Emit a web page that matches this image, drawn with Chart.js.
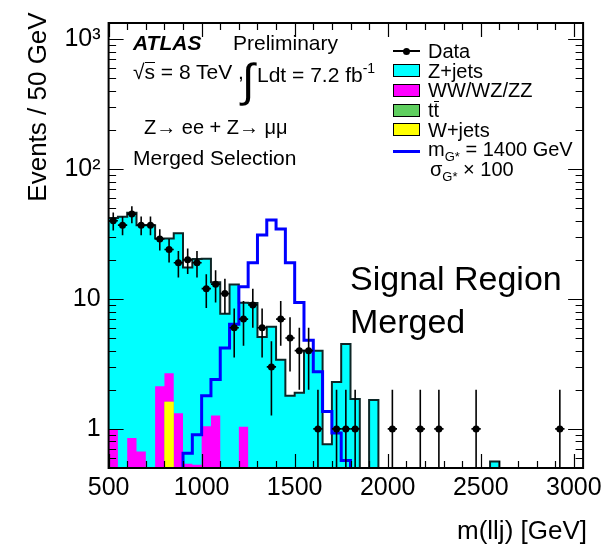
<!DOCTYPE html>
<html>
<head>
<meta charset="utf-8">
<script src="https://cdn.jsdelivr.net/npm/chart.js@4.4.0/dist/chart.umd.min.js"></script>
<style>
  html, body { margin: 0; padding: 0; background: #fff; }
  #wrap { position: relative; width: 607px; height: 545px; font-family: "Liberation Sans", Arial, Helvetica, sans-serif; color: #000; overflow: hidden; }
  #wrap canvas { position: absolute; left: 0; top: 0; }
  .t { position: absolute; white-space: nowrap; line-height: 1; }
  .box { position: absolute; width: 27px; height: 13px; border: 1.5px solid #000; box-sizing: border-box; }
  .ov { display: inline-block; border-top: 1.5px solid #000; line-height: 0.85; }
  sub { font-size: 13px; vertical-align: -5px; line-height: 1; }
  sup { font-size: 14px; vertical-align: 9px; line-height: 1; }
</style>
</head>
<body>
<div id="wrap">
  <canvas id="mllj" width="607" height="545"></canvas>

  <!-- ATLAS label block -->
  <div class="t" style="left:133px; top:32px; font-size:21px; font-weight:bold; font-style:italic;">ATLAS</div>
  <div class="t" style="left:233px; top:32px; font-size:21px;">Preliminary</div>
  <div class="t" style="left:133px; top:61px; font-size:21px;">√<span class="ov">s</span> = 8 TeV ,</div>
  <div class="t" style="left:242px; top:57px; font-size:46px;">∫</div>
  <div class="t" style="left:257px; top:61px; font-size:21px;">Ldt = 7.2 fb<sup>-1</sup></div>
  <div class="t" style="left:144px; top:117px; font-size:20px;">Z→ ee + Z→ μμ</div>
  <div class="t" style="left:133px; top:147px; font-size:21px;">Merged Selection</div>

  <!-- legend -->
  <div style="position:absolute; left:393px; top:50px; width:27px; height:2px; background:#000;"></div>
  <div style="position:absolute; left:403px; top:47.5px; width:7px; height:7px; border-radius:50%; background:#000;"></div>
  <div class="t" style="left:428px; top:41px; font-size:20px;">Data</div>
  <div class="box" style="left:393px; top:64px; background:#00ffff;"></div>
  <div class="t" style="left:428px; top:60.5px; font-size:20px;">Z+jets</div>
  <div class="box" style="left:393px; top:84px; background:#ff00ff;"></div>
  <div class="t" style="left:428px; top:80px; font-size:20px;">WW/WZ/ZZ</div>
  <div class="box" style="left:393px; top:104px; background:#5fcf5f;"></div>
  <div class="t" style="left:428px; top:100px; font-size:20px;">t<span class="ov">t</span></div>
  <div class="box" style="left:393px; top:123px; background:#ffff00;"></div>
  <div class="t" style="left:428px; top:120px; font-size:20px;">W+jets</div>
  <div style="position:absolute; left:393px; top:150px; width:27px; height:3px; background:#0000ff;"></div>
  <div class="t" style="left:428px; top:139px; font-size:20px;">m<sub>G*</sub> = 1400 GeV</div>
  <div class="t" style="left:430px; top:159px; font-size:20px;">σ<sub>G*</sub> × 100</div>

  <div class="t" style="left:350px; top:261px; font-size:34px;">Signal Region</div>
  <div class="t" style="left:350px; top:304px; font-size:34px;">Merged</div>

  <!-- axis titles -->
  <div class="t" style="left:-63px; top:94px; width:200px; height:26px; text-align:center; font-size:26px; transform:rotate(-90deg);">Events / 50 GeV</div>
  <div class="t" style="right:20px; top:517px; font-size:26px;">m(llj) [GeV]</div>
</div>

<script>
// 50 GeV bins, lower edges (last bin 3000-3050)
const BIN_W = 50;
const binLow = [500, 550, 600, 650, 700, 750, 800, 850, 900, 950,
    1000, 1050, 1100, 1150, 1200, 1250, 1300, 1350, 1400, 1450,
    1500, 1550, 1600, 1650, 1700, 1750, 1800, 1850, 1900, 1950,
    2000, 2050, 2100, 2150, 2200, 2250, 2300, 2350, 2400, 2450,
    2500, 2550, 2600, 2650, 2700, 2750, 2800, 2850, 2900, 2950, 3000];

// observed events per bin
const dataCounts = [40, 37, 45, 37, 37, 29, 24, 19, 20, 19,
    12, 13, 11, 6, 7, 9, 6, 3, 7, 5,
    4, 4, 1, 0, 1, 1, 1, 0, 0, 0,
    1, 0, 0, 1, 0, 1, 0, 0, 0, 1,
    0, 0, 0, 0, 0, 0, 0, 0, 1, 0, 0];

// backgrounds (per bin, not stacked)
const zjets = [40.9, 42.6, 45.2, 36.3, 36.7, 27.1, 26.5, 30.7, 16.9, 19.8,
    19.3, 12.2, 7.4, 12.6, 8.3, 9.1, 5.1, 6.1, 3.4, 1.8,
    1.9, 4.0, 4.0, 0.76, 2.3, 4.5, 1.7, 0, 1.67, 0,
    0, 0, 0, 0, 0, 0, 0, 0, 0, 0,
    0, 0.56, 0, 0, 0, 0, 0, 0, 0, 0, 0];
const diboson = [1.0, 0.3, 0.85, 0.67, 0.3, 2.13, 1.06, 1.32, 0.54, 0.53,
    1.05, 1.27, 0.3, 0.3, 1.04, 0.2, 0, 0, 0, 0,
    0, 0, 0, 0, 0, 0, 0, 0, 0, 0,
    0, 0, 0, 0, 0, 0, 0, 0, 0, 0,
    0, 0, 0, 0, 0, 0, 0, 0, 0, 0, 0];
const ttbar = [0, 0, 0, 0, 0, 0, 0, 0, 0, 0,
    0, 0, 0, 0, 0, 0, 0, 0, 0, 0,
    0, 0, 0, 0, 0, 0, 0, 0, 0, 0,
    0, 0, 0, 0, 0, 0, 0, 0, 0, 0,
    0, 0, 0, 0, 0, 0, 0, 0, 0, 0, 0];
const wjets = [0, 0, 0, 0, 0, 0, 1.62, 0, 0, 0,
    0, 0, 0, 0, 0, 0, 0, 0, 0, 0,
    0, 0, 0, 0, 0, 0, 0, 0, 0, 0,
    0, 0, 0, 0, 0, 0, 0, 0, 0, 0,
    0, 0, 0, 0, 0, 0, 0, 0, 0, 0, 0];

// G* signal, m = 1400 GeV, x100
const signal = [0, 0, 0, 0, 0, 0, 0, 0, 0.65, 0.9,
    1.8, 2.4, 4.2, 6.4, 12.4, 19, 31, 40.5, 34.6, 19,
    9.4, 4.8, 2.75, 1.36, 0.93, 0.57, 0, 0, 0, 0,
    0, 0, 0, 0, 0, 0, 0, 0, 0, 0,
    0, 0, 0, 0, 0, 0, 0, 0, 0, 0, 0];

// axis ticks
const xTickVals = [500, 1000, 1500, 2000, 2500, 3000];
const yTickVals = [1, 10, 100, 1000];
const yTickText = ['1', '10', '10²', '10³'];

const LOG_FLOOR = 1e-3; // empty bins go under the axis

// stack sums, bottom to top
const sumW = wjets.map(v => v);
const sumT = sumW.map((v, i) => v + ttbar[i]);
const sumD = sumT.map((v, i) => v + diboson[i]);
const sumZ = sumD.map((v, i) => v + zjets[i]);

function stepPoints(vals) {
    const pts = binLow.map((x, i) => ({ x: x, y: vals[i] > 0 ? vals[i] : LOG_FLOOR }));
    const last = vals[vals.length - 1];
    pts.push({ x: binLow[binLow.length - 1] + BIN_W, y: last > 0 ? last : LOG_FLOOR });
    return pts;
}

function histSet(label, vals, fill, line, width, order) {
    return {
        label: label,
        data: stepPoints(vals),
        stepped: true,
        fill: fill ? 'start' : false,
        backgroundColor: fill || 'rgba(0,0,0,0)',
        borderColor: line,
        borderWidth: width,
        pointRadius: 0,
        order: order
    };
}

const dataPoints = [];
dataCounts.forEach((n, i) => {
    if (n > 0) dataPoints.push({ x: binLow[i] + BIN_W / 2, y: n });
});

// error bars (sqrt N) drawn under the markers
const errorBars = {
    id: 'errorBars',
    beforeDatasetDraw(chart, args) {
        if (chart.data.datasets[args.index].label !== 'Data') return;
        const { ctx, chartArea: a, scales: { x, y } } = chart;
        ctx.save();
        ctx.beginPath();
        ctx.rect(a.left, a.top, a.right - a.left, a.bottom - a.top);
        ctx.clip();
        ctx.strokeStyle = '#000';
        ctx.lineWidth = 1.6;
        dataCounts.forEach((n, i) => {
            if (n <= 0) return;
            const err = Math.sqrt(n);
            const cx = x.getPixelForValue(binLow[i] + BIN_W / 2);
            const yHi = y.getPixelForValue(n + err);
            const yLo = n - err > 0 ? y.getPixelForValue(n - err) : a.bottom;
            const yc = y.getPixelForValue(n);
            ctx.beginPath();
            ctx.moveTo(cx, yHi);
            ctx.lineTo(cx, yLo);
            ctx.moveTo(x.getPixelForValue(binLow[i]), yc);
            ctx.lineTo(x.getPixelForValue(binLow[i] + BIN_W), yc);
            ctx.stroke();
        });
        ctx.restore();
    }
};

// ROOT style frame with ticks pointing inwards
const frameTicks = {
    id: 'frameTicks',
    afterDraw(chart) {
        const { ctx, chartArea: a, scales: { x, y } } = chart;
        ctx.save();
        ctx.strokeStyle = '#000';
        ctx.lineWidth = 1.2;
        ctx.beginPath();
        for (let v = 500; v <= 3000; v += 100) {
            const px = Math.round(x.getPixelForValue(v)) + 0.5;
            const len = xTickVals.includes(v) ? 14 : 7;
            ctx.moveTo(px, a.bottom); ctx.lineTo(px, a.bottom - len);
            ctx.moveTo(px, a.top); ctx.lineTo(px, a.top + len);
        }
        for (let dec = 0.1; dec <= 1000; dec *= 10) {
            for (let k = 1; k <= 9; k++) {
                const v = dec * k;
                if (v < y.min || v > y.max) continue;
                const py = Math.round(y.getPixelForValue(v)) + 0.5;
                const len = k === 1 ? 15 : 7.5;
                ctx.moveTo(a.left, py); ctx.lineTo(a.left + len, py);
                ctx.moveTo(a.right, py); ctx.lineTo(a.right - len, py);
            }
        }
        ctx.stroke();
        ctx.lineWidth = 2;
        ctx.strokeRect(a.left, a.top, a.right - a.left, a.bottom - a.top);
        ctx.restore();
    }
};

const tickFont = { family: '"Liberation Sans", Arial, Helvetica, sans-serif', size: 25 };

new Chart(document.getElementById('mllj'), {
    type: 'line',
    data: {
        datasets: [
            {
                label: 'Data',
                data: dataPoints,
                showLine: false,
                pointRadius: 3.5,
                pointBackgroundColor: '#000',
                pointBorderColor: '#000',
                pointBorderWidth: 0,
                order: 0
            },
            histSet('G*', signal, null, '#0000ff', 3, 1),
            histSet('W+jets', sumW, '#ffff00', 'rgba(0,0,0,0)', 1, 2),
            histSet('ttbar', sumT, '#5fcf5f', 'rgba(0,0,0,0)', 1, 3),
            histSet('WW/WZ/ZZ', sumD, '#ff00ff', 'rgba(0,0,0,0)', 1, 4),
            histSet('Z+jets', sumZ, '#00ffff', '#0d2626', 2, 5)
        ]
    },
    options: {
        responsive: false,
        animation: false,
        layout: { autoPadding: false, padding: { top: 9.5, right: 20.3, left: 0, bottom: 0 } },
        plugins: { legend: { display: false }, tooltip: { enabled: false } },
        elements: { line: { tension: 0 } },
        scales: {
            x: {
                type: 'linear',
                min: 500,
                max: 3050,
                grid: { display: false, drawTicks: false },
                border: { display: false },
                afterBuildTicks: s => { s.ticks = xTickVals.map(v => ({ value: v })); },
                afterFit: s => { s.height = 77; },
                ticks: {
                    autoSkip: false, maxRotation: 0, minRotation: 0, padding: 5,
                    color: '#000', font: tickFont,
                    callback: (v, i) => String(xTickVals[i])
                }
            },
            y: {
                type: 'logarithmic',
                min: 0.5,
                max: 1330,
                grid: { display: false, drawTicks: false },
                border: { display: false },
                afterBuildTicks: s => { s.ticks = yTickVals.map(v => ({ value: v })); },
                afterFit: s => { s.width = 108.6; },
                ticks: {
                    autoSkip: false, padding: 8,
                    color: '#000', font: tickFont,
                    callback: (v, i) => yTickText[i]
                }
            }
        }
    },
    plugins: [errorBars, frameTicks]
});
</script>
</body>
</html>
